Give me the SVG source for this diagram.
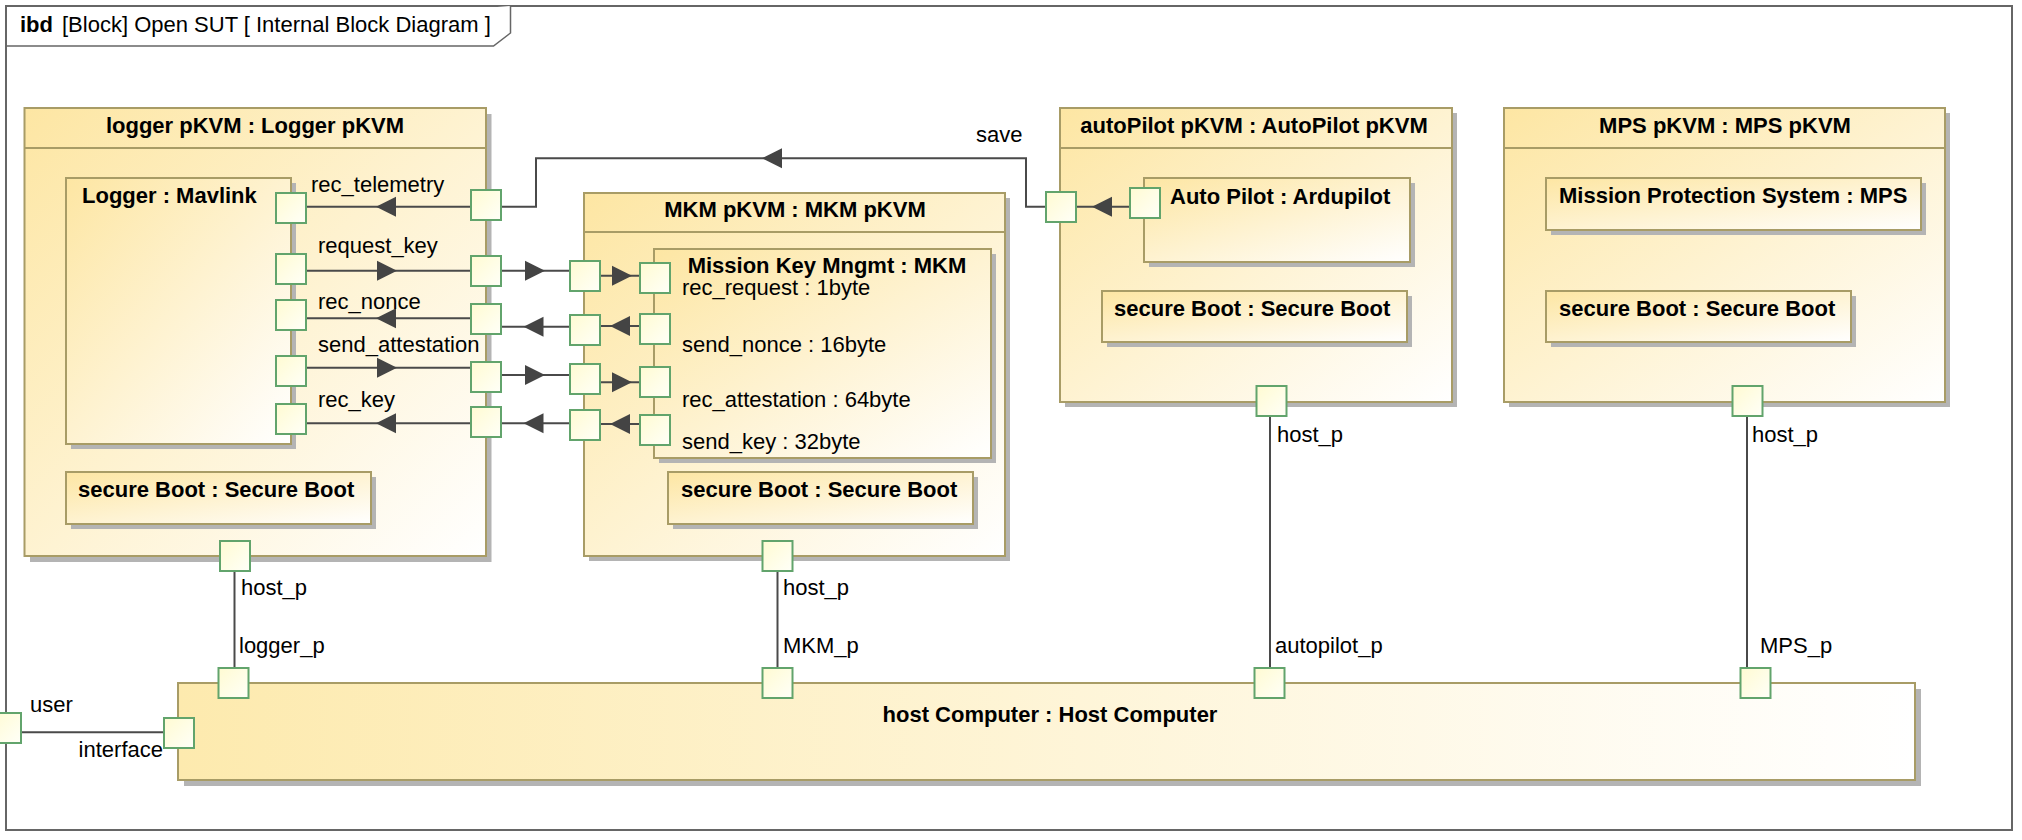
<svg xmlns="http://www.w3.org/2000/svg" xmlns:xlink="http://www.w3.org/1999/xlink" width="2022" height="840" viewBox="0 0 2022 840">
  <defs>
    <linearGradient id="gBox" x1="0" y1="0" x2="1" y2="1">
      <stop offset="0" stop-color="#FDE6A3"/>
      <stop offset="1" stop-color="#FFFFFF"/>
    </linearGradient>
    <linearGradient id="gHost" x1="0" y1="0" x2="1" y2="0">
      <stop offset="0" stop-color="#FDEAAE"/>
      <stop offset="1" stop-color="#FFFFFF"/>
    </linearGradient>
    <linearGradient id="gPort" x1="0" y1="0" x2="1" y2="1">
      <stop offset="0" stop-color="#FFFBD2"/>
      <stop offset="1" stop-color="#FFFFF8"/>
    </linearGradient>
    <polygon id="arrR" points="-20,-10 0,0 -20,10"/>
    <polygon id="arrL" points="20,-10 0,0 20,10"/>
    <style>
      .frame { fill: #FFFFFF; stroke: #666666; stroke-width: 2; }
      .tab { fill: #FFFFFF; stroke: #666666; stroke-width: 1.5; }
      .shadow { fill: #B4B4B4; }
      .box { fill: url(#gBox); stroke: #A89C66; stroke-width: 2; }
      .host { fill: url(#gHost); stroke: #A89C66; stroke-width: 2; }
      .hdr { stroke: #A89C66; stroke-width: 2; fill: none; }
      .port { fill: url(#gPort); stroke: #62A46C; stroke-width: 2; }
      .conn { stroke: #4A4A4A; stroke-width: 2; fill: none; }
      .arrow { fill: #444444; }
      text { font-family: "Liberation Sans", Arial, Helvetica, sans-serif; font-size: 22px; fill: #000000; }
      .b { font-weight: bold; }
      .mid { text-anchor: middle; }
      .end { text-anchor: end; }
    </style>
  </defs>

  <g id="frame">
    <rect class="frame" x="6" y="6" width="2006" height="824"/>
    <path class="tab" d="M6 46 H493.5 L510.5 33 V6"/>
    <text x="20" y="32" class="b">ibd</text>
    <text x="62" y="32">[Block] Open SUT [ Internal Block Diagram ]</text>
  </g>

  <g id="logger-pkvm">
    <rect class="shadow" x="30" y="114" width="461.5" height="448"/>
    <rect class="box" x="24.5" y="108" width="461.5" height="448"/>
    <line class="hdr" x1="24.5" y1="148" x2="486" y2="148"/>
    <text x="255" y="133" class="b mid">logger pKVM : Logger pKVM</text>
  </g>
  <g id="logger-mavlink">
    <rect class="shadow" x="71" y="183" width="225" height="266"/>
    <rect class="box" x="66" y="178" width="225" height="266"/>
    <text x="82" y="203" class="b">Logger : Mavlink</text>
  </g>
  <g id="logger-secureboot">
    <rect class="shadow" x="71" y="477" width="305" height="52"/>
    <rect class="box" x="66" y="472" width="305" height="52"/>
    <text x="78" y="497" class="b">secure Boot : Secure Boot</text>
  </g>

  <g id="mkm-pkvm">
    <rect class="shadow" x="589" y="198" width="421" height="363"/>
    <rect class="box" x="584" y="193" width="421" height="363"/>
    <line class="hdr" x1="584" y1="232" x2="1005" y2="232"/>
    <text x="795" y="217" class="b mid">MKM pKVM : MKM pKVM</text>
  </g>
  <g id="mkm-inner">
    <rect class="shadow" x="659" y="254" width="337" height="209"/>
    <rect class="box" x="654" y="249" width="337" height="209"/>
    <text x="827" y="273" class="b mid">Mission Key Mngmt : MKM</text>
    <text x="682" y="295">rec_request : 1byte</text>
    <text x="682" y="352">send_nonce : 16byte</text>
    <text x="682" y="407">rec_attestation : 64byte</text>
    <text x="682" y="449">send_key : 32byte</text>
  </g>
  <g id="mkm-secureboot">
    <rect class="shadow" x="673" y="477" width="305" height="52"/>
    <rect class="box" x="668" y="472" width="305" height="52"/>
    <text x="681" y="497" class="b">secure Boot : Secure Boot</text>
  </g>

  <g id="autopilot-pkvm">
    <rect class="shadow" x="1065" y="113" width="392" height="294"/>
    <rect class="box" x="1060" y="108" width="392" height="294"/>
    <line class="hdr" x1="1060" y1="148" x2="1452" y2="148"/>
    <text x="1254" y="133" class="b mid">autoPilot pKVM : AutoPilot pKVM</text>
  </g>
  <g id="autopilot-ardupilot">
    <rect class="shadow" x="1149" y="183" width="266" height="84"/>
    <rect class="box" x="1144" y="178" width="266" height="84"/>
    <text x="1170" y="204" class="b">Auto Pilot : Ardupilot</text>
  </g>
  <g id="autopilot-secureboot">
    <rect class="shadow" x="1107" y="296" width="305" height="51"/>
    <rect class="box" x="1102" y="291" width="305" height="51"/>
    <text x="1114" y="316" class="b">secure Boot : Secure Boot</text>
  </g>

  <g id="mps-pkvm">
    <rect class="shadow" x="1509" y="113" width="441" height="294"/>
    <rect class="box" x="1504" y="108" width="441" height="294"/>
    <line class="hdr" x1="1504" y1="148" x2="1945" y2="148"/>
    <text x="1725" y="133" class="b mid">MPS pKVM : MPS pKVM</text>
  </g>
  <g id="mps-system">
    <rect class="shadow" x="1551" y="183" width="375" height="52"/>
    <rect class="box" x="1546" y="178" width="375" height="52"/>
    <text x="1559" y="203" class="b">Mission Protection System : MPS</text>
  </g>
  <g id="mps-secureboot">
    <rect class="shadow" x="1551" y="296" width="305" height="51"/>
    <rect class="box" x="1546" y="291" width="305" height="51"/>
    <text x="1559" y="316" class="b">secure Boot : Secure Boot</text>
  </g>

  <g id="host-computer">
    <rect class="shadow" x="184" y="689" width="1737" height="97"/>
    <rect class="host" x="178" y="683" width="1737" height="97"/>
    <text x="1050" y="722" class="b mid">host Computer : Host Computer</text>
  </g>

  <g id="connectors">
    <!-- save -->
    <path class="conn" d="M1046 206.7 H1026 V158.3 H536 V206.7 H501"/>
    <use href="#arrL" class="arrow" x="762" y="158.3"/>
    <text x="976" y="142">save</text>
    <!-- autopilot internal -->
    <line class="conn" x1="1076" y1="206.7" x2="1130" y2="206.7"/>
    <use href="#arrL" class="arrow" x="1092" y="206.7"/>
    <!-- logger internal -->
    <line class="conn" x1="306" y1="206.7" x2="471" y2="206.7"/>
    <use href="#arrL" class="arrow" x="376" y="206.7"/>
    <line class="conn" x1="306" y1="270.7" x2="471" y2="270.7"/>
    <use href="#arrR" class="arrow" x="397" y="270.7"/>
    <line class="conn" x1="306" y1="318.3" x2="471" y2="318.3"/>
    <use href="#arrL" class="arrow" x="376" y="318.3"/>
    <line class="conn" x1="306" y1="367.7" x2="471" y2="367.7"/>
    <use href="#arrR" class="arrow" x="397" y="367.7"/>
    <line class="conn" x1="306" y1="423.3" x2="471" y2="423.3"/>
    <use href="#arrL" class="arrow" x="376" y="423.3"/>
    <text x="311" y="192">rec_telemetry</text>
    <text x="318" y="253">request_key</text>
    <text x="318" y="309">rec_nonce</text>
    <text x="318" y="352">send_attestation</text>
    <text x="318" y="407">rec_key</text>
    <!-- logger to mkm -->
    <line class="conn" x1="501" y1="270.7" x2="570" y2="270.7"/>
    <use href="#arrR" class="arrow" x="545" y="270.7"/>
    <line class="conn" x1="501" y1="326.7" x2="570" y2="326.7"/>
    <use href="#arrL" class="arrow" x="523.5" y="326.7"/>
    <line class="conn" x1="501" y1="375" x2="570" y2="375"/>
    <use href="#arrR" class="arrow" x="545" y="375"/>
    <line class="conn" x1="501" y1="423.3" x2="570" y2="423.3"/>
    <use href="#arrL" class="arrow" x="523.5" y="423.3"/>
    <!-- mkm outer to inner -->
    <line class="conn" x1="600" y1="275.7" x2="640" y2="275.7"/>
    <use href="#arrR" class="arrow" x="632" y="275.7"/>
    <line class="conn" x1="600" y1="326" x2="640" y2="326"/>
    <use href="#arrL" class="arrow" x="610" y="326"/>
    <line class="conn" x1="600" y1="382.3" x2="640" y2="382.3"/>
    <use href="#arrR" class="arrow" x="632" y="382.3"/>
    <line class="conn" x1="600" y1="424" x2="640" y2="424"/>
    <use href="#arrL" class="arrow" x="610" y="424"/>
    <!-- host links -->
    <line class="conn" x1="234.5" y1="571" x2="234.5" y2="668"/>
    <line class="conn" x1="777.5" y1="571" x2="777.5" y2="668"/>
    <line class="conn" x1="1270" y1="416" x2="1270" y2="668"/>
    <line class="conn" x1="1747" y1="416" x2="1747" y2="668"/>
    <line class="conn" x1="21" y1="732.3" x2="164" y2="732.3"/>
    <text x="241" y="595">host_p</text>
    <text x="239" y="653">logger_p</text>
    <text x="783" y="595">host_p</text>
    <text x="783" y="653">MKM_p</text>
    <text x="1277" y="442">host_p</text>
    <text x="1275" y="653">autopilot_p</text>
    <text x="1752" y="442">host_p</text>
    <text x="1760" y="653">MPS_p</text>
    <text x="30" y="712">user</text>
    <text x="163" y="757" class="end">interface</text>
  </g>

  <g id="ports">
    <rect class="port" x="276" y="193" width="30" height="30"/>
    <rect class="port" x="276" y="254" width="30" height="30"/>
    <rect class="port" x="276" y="300" width="30" height="30"/>
    <rect class="port" x="276" y="356" width="30" height="30"/>
    <rect class="port" x="276" y="404" width="30" height="30"/>
    <rect class="port" x="471" y="190" width="30" height="30"/>
    <rect class="port" x="471" y="256" width="30" height="30"/>
    <rect class="port" x="471" y="304" width="30" height="30"/>
    <rect class="port" x="471" y="362" width="30" height="30"/>
    <rect class="port" x="471" y="407" width="30" height="30"/>
    <rect class="port" x="570" y="261" width="30" height="30"/>
    <rect class="port" x="570" y="315" width="30" height="30"/>
    <rect class="port" x="570" y="364" width="30" height="30"/>
    <rect class="port" x="570" y="410" width="30" height="30"/>
    <rect class="port" x="640" y="263" width="30" height="30"/>
    <rect class="port" x="640" y="314" width="30" height="30"/>
    <rect class="port" x="640" y="367" width="30" height="30"/>
    <rect class="port" x="640" y="415" width="30" height="30"/>
    <rect class="port" x="1046" y="192" width="30" height="30"/>
    <rect class="port" x="1130" y="188" width="30" height="30"/>
    <rect class="port" x="220" y="541" width="30" height="30"/>
    <rect class="port" x="762.5" y="541" width="30" height="30"/>
    <rect class="port" x="1256.5" y="386" width="30" height="30"/>
    <rect class="port" x="1732.5" y="386" width="30" height="30"/>
    <rect class="port" x="218.5" y="668" width="30" height="30"/>
    <rect class="port" x="762.5" y="668" width="30" height="30"/>
    <rect class="port" x="1254.5" y="668" width="30" height="30"/>
    <rect class="port" x="1740.5" y="668" width="30" height="30"/>
    <rect class="port" x="164" y="718" width="30" height="30"/>
    <rect class="port" x="-9" y="713" width="30" height="30"/>
  </g>
</svg>
